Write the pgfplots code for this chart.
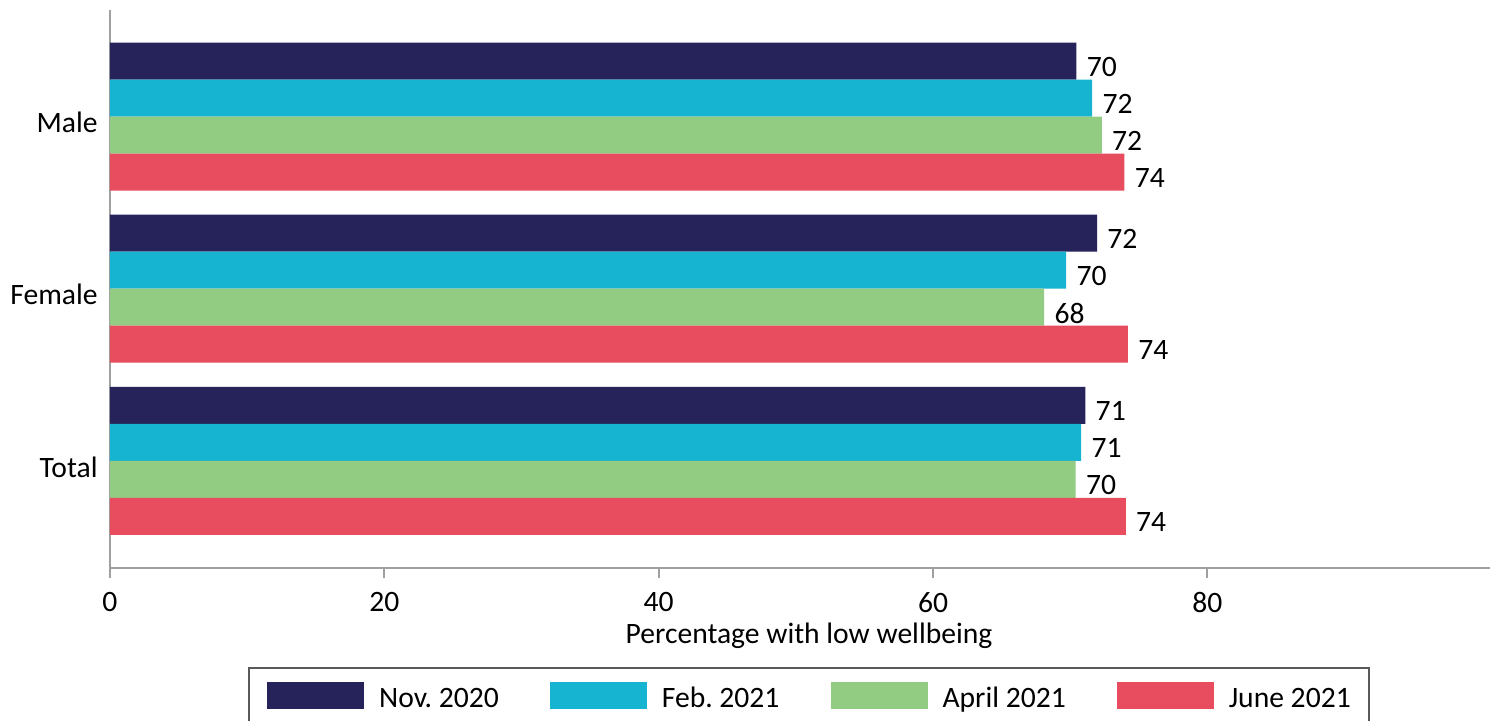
\documentclass[border=0pt]{standalone}
\usepackage{pgfplots}
\pgfplotsset{compat=1.18}
\usepackage{fontspec}
\setmainfont{Carlito}
\frenchspacing

\definecolor{cNov}{RGB}{38,34,90}
\definecolor{cFeb}{RGB}{22,180,208}
\definecolor{cApr}{RGB}{145,204,130}
\definecolor{cJun}{RGB}{232,76,95}
\definecolor{axisgrey}{RGB}{160,160,160}

\newcommand{\chartfont}{\fontsize{14.8}{17.5}\selectfont}

\begin{document}
\begin{tikzpicture}
\begin{axis}[
  name=ax, at={(0pt,0pt)}, anchor=south west,
  scale only axis, width=690pt, height=279pt,
  xbar, bar width=18.5pt,
  xmin=0, xmax=100.6, ymin=-0.622, ymax=2.619,
  axis x line*=bottom, axis y line*=left,
  axis line style={draw=axisgrey, line width=1pt},
  xtick={0,20,40,60,80},
  ytick={0,1,2}, yticklabels={Total,Female,Male},
  tick align=outside, major tick length=5pt,
  x tick style={draw=axisgrey, line width=1pt},
  y tick style={draw=none},
  font=\chartfont,
  /pgf/number format/assume math mode=true,
  xticklabel style={font=\chartfont, inner sep=0pt, yshift=-7pt},
  yticklabel style={font=\chartfont, inner sep=0pt, xshift=-1pt, yshift=-3pt},
  xlabel={Percentage with low wellbeing},
  xlabel style={font=\chartfont, at={(axis description cs:0.5065,0)}, anchor=north, inner sep=0pt, yshift=-27.5pt},
  nodes near coords={\pgfmathprintnumber[fixed,precision=0]{\pgfplotspointmeta}},
  every node near coord/.append style={font=\chartfont, text=black, anchor=west, inner sep=0pt, xshift=5pt, yshift=-3pt},
  legend columns=4,
  legend image code/.code={\fill[#1] (0pt,-5pt) rectangle (48.5pt,8.5pt);},
  legend style={at={(0.5065,0)}, anchor=north, yshift=-49.5pt,
    draw=black!65, line width=1pt, font=\chartfont,
    inner xsep=9pt, inner ysep=7pt,
    nodes={inner sep=0pt},
    /tikz/every odd column/.append style={column sep=7.5pt},
    /tikz/every even column/.append style={column sep=25.5pt}},
]
% November 2020
\addplot[fill=cNov, draw=none, bar shift=27.75pt] coordinates {(71.1,0) (71.95,1) (70.45,2)};
% February 2021
\addplot[fill=cFeb, draw=none, bar shift=9.25pt] coordinates {(70.8,0) (69.7,1) (71.6,2)};
% April 2021
\addplot[fill=cApr, draw=none, bar shift=-9.25pt] coordinates {(70.4,0) (68.1,1) (72.3,2)};
% June 2021
\addplot[fill=cJun, draw=none, bar shift=-27.75pt] coordinates {(74.05,0) (74.2,1) (73.95,2)};
\legend{Nov. 2020, Feb. 2021, April 2021, June 2021}
\end{axis}
\pgfresetboundingbox
\path[use as bounding box] ([xshift=-55pt,yshift=-76pt]ax.south west) rectangle ([xshift=1.5pt,yshift=5pt]ax.north east);
\end{tikzpicture}
\end{document}
